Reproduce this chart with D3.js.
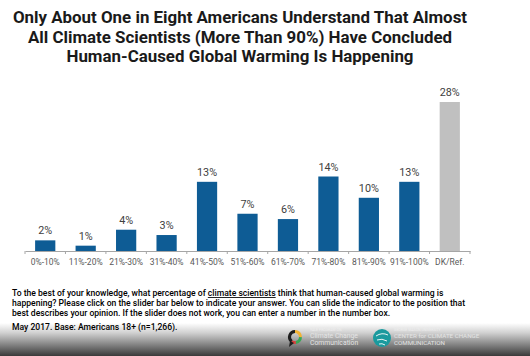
<!DOCTYPE html>
<html><head><meta charset="utf-8">
<script src="https://cdn.jsdelivr.net/npm/d3@7"></script>
<style>
html,body{margin:0;padding:0;background:#fff;}
svg{display:block;}
</style></head>
<body>
<svg id="chart" width="530" height="356"></svg>
<script>
const categories = ["0%-10%","11%-20%","21%-30%","31%-40%","41%-50%","51%-60%","61%-70%","71%-80%","81%-90%","91%-100%","DK/Ref."];
const values = [2,1,4,3,13,7,6,14,10,13,28];
const valueLabels = ["2%","1%","4%","3%","13%","7%","6%","14%","10%","13%","28%"];
const titleLines = ["Only About One in Eight Americans Understand That Almost","All Climate Scientists (More Than 90%) Have Concluded","Human-Caused Global Warming Is Happening"];
const questionLines = [
 ["To the best of your knowledge, what percentage of ", "climate scientists", " think that human-caused global warming is"],
 ["happening? Please click on the slider bar below to indicate your answer. You can slide the indicator to the position that"],
 ["best describes your opinion. If the slider does not work, you can enter a number in the number box."]
];
const baseNote = "May 2017. Base: Americans 18+ (n=1,266).";

const svg = d3.select("#chart");
const defs = svg.append("defs");
const grad = defs.append("linearGradient").attr("id","shade").attr("x1",0).attr("y1",0).attr("x2",0).attr("y2",1);
grad.append("stop").attr("offset","0%").attr("stop-color","#ffffff");
grad.append("stop").attr("offset","30%").attr("stop-color","#d0d0d0");
grad.append("stop").attr("offset","100%").attr("stop-color","#3a3a3a");
svg.append("rect").attr("x",0).attr("y",323).attr("width",530).attr("height",33).attr("fill","url(#shade)");

// title
svg.append("g").selectAll("text").data(titleLines).join("text")
  .attr("x",240).attr("y",(d,i)=>23+i*19.5)
  .attr("text-anchor","middle")
  .style("font-family","Roboto, 'Noto Sans', sans-serif").style("font-weight","700").style("font-size","16.9px").style("fill","#1a1a1a")
  .text(d=>d);

const x = d3.scaleBand().domain(categories).range([25,470]).paddingInner(0.5).paddingOuter(0.25);
const y = d3.scaleLinear().domain([0,28]).range([251,102]);

const g = svg.append("g");
g.selectAll("rect.bar").data(categories).join("rect").attr("class","bar")
  .attr("x",d=>x(d)).attr("width",x.bandwidth())
  .attr("y",(d,i)=>y(values[i])).attr("height",(d,i)=>y(0)-y(values[i]))
  .attr("fill",(d,i)=>d==="DK/Ref."?"#c0c0c0":"#0e5c95");

g.selectAll("text.val").data(categories).join("text").attr("class","val")
  .attr("x",d=>x(d)+x.bandwidth()/2).attr("y",(d,i)=>y(values[i])-6)
  .attr("text-anchor","middle")
  .style("font-family","Roboto, sans-serif").style("font-size","10.8px").style("fill","#404040")
  .text((d,i)=>valueLabels[i]);

// axis
const axis = d3.axisBottom(x).tickSize(0).tickPadding(8);
const ax = g.append("g").attr("transform",`translate(0,${y(0)})`).call(axis);
ax.select(".domain").attr("stroke","#a6a6a6").attr("stroke-width",1);
ax.selectAll("text").style("font-family","Roboto, sans-serif").style("font-size","8.5px").style("fill","#595959");
const step = x.step();
const bounds = categories.map(d=>x(d)-step*x.paddingInner()/2).concat([x(categories[categories.length-1])+x.bandwidth()+step*x.paddingInner()/2]);
ax.selectAll("line.bt").data(bounds).join("line").attr("class","bt")
  .attr("x1",d=>d).attr("x2",d=>d).attr("y1",0).attr("y2",3).attr("stroke","#a6a6a6");

// question text
const q = svg.append("g").style("font-family","Roboto, sans-serif").style("font-size","8.6px").style("font-weight","500").style("fill","#000");
questionLines.forEach((parts,i)=>{
  const t = q.append("text").attr("x",12).attr("y",296+i*9.8);
  parts.forEach((p,j)=>{
    const ts = t.append("tspan").text(p);
    if(p==="climate scientists") ts.style("text-decoration","underline");
  });
});
svg.append("text").attr("x",12).attr("y",330)
  .style("font-family","Roboto, sans-serif").style("font-size","8.6px").style("font-weight","500").style("fill","#000")
  .text(baseNote);

// logos
const lg = svg.append("g");
const cx1=295, cy1=337, r1=7;
const arcs = [["#f2b233",0,1.6],["#3aa655",1.6,3.0],["#d9413b",3.0,3.8],["#1e1e1e",3.8,6.283]];
arcs.forEach(a=>{
  lg.append("path").attr("transform",`translate(${cx1},${cy1})`)
    .attr("d",d3.arc().innerRadius(r1-3).outerRadius(r1).startAngle(a[1]).endAngle(a[2])())
    .attr("fill",a[0]);
});
lg.append("path").attr("d",`M${cx1-5},${cy1+4} l-1,6 l5,-4 z`).attr("fill","#1e1e1e");
lg.append("text").attr("x",310).attr("y",331).style("font-family","Roboto, sans-serif").style("font-size","3.5px").style("fill","#eee").text("YALE PROGRAM ON");
lg.append("text").attr("x",310).attr("y",338).style("font-family","Roboto, sans-serif").style("font-size","6.8px").style("fill","#e4e4e4").text("Climate Change");
lg.append("text").attr("x",310).attr("y",345).style("font-family","Roboto, sans-serif").style("font-size","6.8px").style("fill","#e4e4e4").text("Communication");
lg.append("circle").attr("cx",382).attr("cy",338).attr("r",9).attr("fill","#1a9a9e");
lg.append("path").attr("d","M376,336 q6,-4 12,-1 M377,340 q5,-2 10,1 M379,344 q3,-1 6,1").attr("stroke","#e8f4f4").attr("stroke-width",1).attr("fill","none");
lg.append("text").attr("x",394).attr("y",331).style("font-family","Roboto, sans-serif").style("font-size","3.5px").style("fill","#eee").text("GEORGE MASON UNIVERSITY");
lg.append("text").attr("x",394).attr("y",338).style("font-family","Roboto, sans-serif").style("font-size","6.2px").style("fill","#e4e4e4").text("CENTER for CLIMATE CHANGE");
lg.append("text").attr("x",394).attr("y",345).style("font-family","Roboto, sans-serif").style("font-size","6.2px").style("fill","#e4e4e4").text("COMMUNICATION");
</script>
</body></html>
